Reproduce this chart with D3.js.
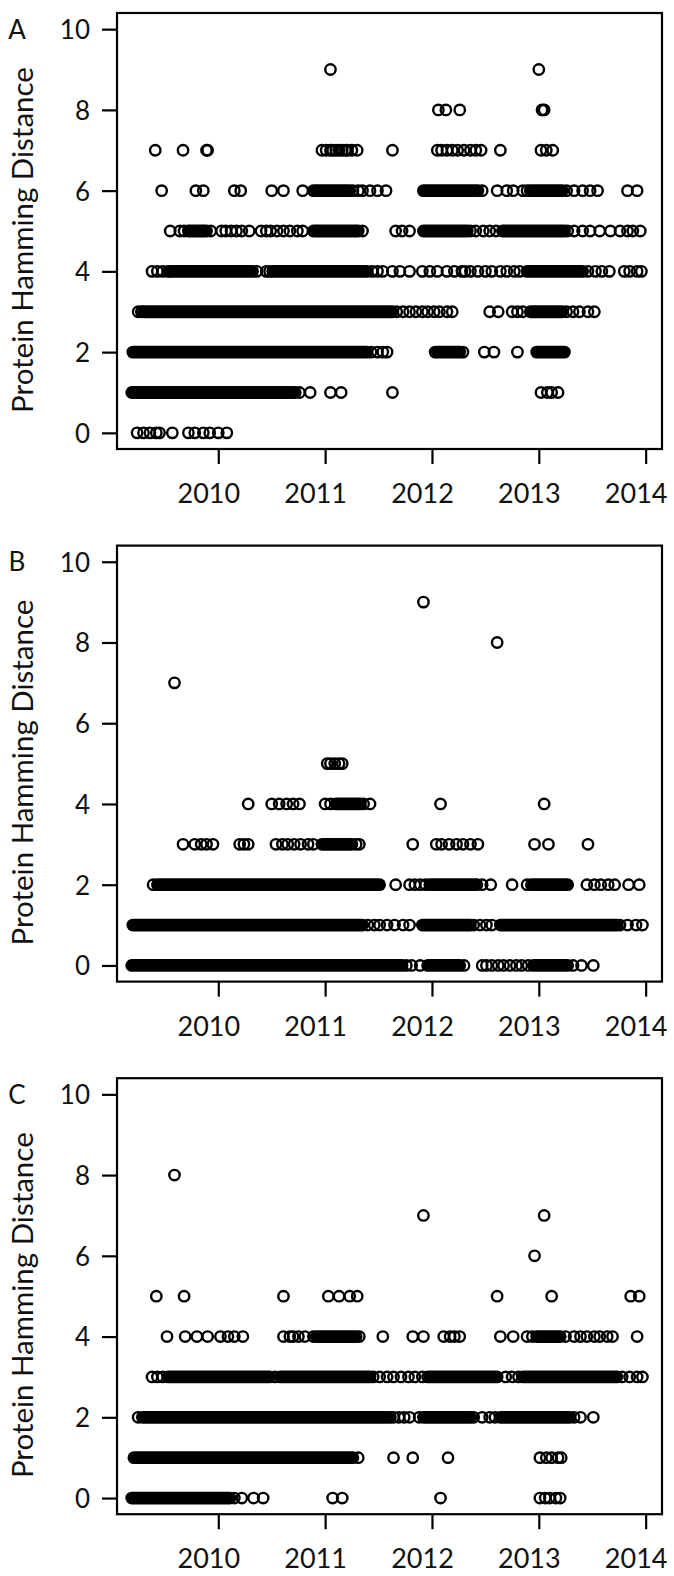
<!DOCTYPE html>
<html><head><meta charset="utf-8">
<script src="https://cdn.jsdelivr.net/npm/d3@7"></script>
<style>
body{margin:0;background:#fff}
text{font-family:Lato,"Open Sans","Noto Sans",sans-serif;fill:#111}
</style>
</head><body>
<svg id="chart" width="674" height="1576"></svg>
<script>
const panelLetters = ["A", "B", "C"];
const yTicks = [0, 2, 4, 6, 8, 10];
const xTicks = [2010, 2011, 2012, 2013, 2014];
const xTickLabels = ["2010", "2011", "2012", "2013", "2014"];
const yLabel = "Protein Hamming Distance";

// isolated circles: [distance, [decimal years]]
const pointsA = [
  [9, [2011.05, 2013.00]],
  [8, [2012.06, 2012.13, 2012.26, 2013.03, 2013.05]],
  [7, [2009.41, 2009.67, 2009.89, 2009.90, 2010.97, 2011.01, 2011.05, 2011.07, 2011.10, 2011.13, 2011.16, 2011.19, 2011.21, 2011.25, 2011.30, 2011.63, 2012.05, 2012.09, 2012.14, 2012.19, 2012.24, 2012.30, 2012.36, 2012.41, 2012.46, 2012.64, 2013.02, 2013.07, 2013.13]],
  [6, [2009.47, 2009.79, 2009.86, 2010.15, 2010.21, 2010.50, 2010.61, 2010.79, 2011.26, 2011.31, 2011.35, 2011.42, 2011.49, 2011.57, 2012.47, 2012.61, 2012.70, 2012.76, 2012.85, 2012.89, 2013.26, 2013.33, 2013.41, 2013.48, 2013.55, 2013.83, 2013.92]],
  [5, [2009.55, 2009.64, 2009.68, 2009.93, 2010.03, 2010.07, 2010.12, 2010.17, 2010.22, 2010.29, 2010.40, 2010.45, 2010.49, 2010.55, 2010.61, 2010.67, 2010.74, 2010.79, 2011.35, 2011.66, 2011.72, 2011.79, 2012.36, 2012.41, 2012.48, 2012.54, 2012.60, 2013.27, 2013.33, 2013.41, 2013.48, 2013.57, 2013.67, 2013.76, 2013.83, 2013.88, 2013.95]],
  [4, [2009.38, 2009.43, 2009.48, 2009.53, 2010.36, 2010.45, 2010.48, 2011.44, 2011.49, 2011.54, 2011.63, 2011.70, 2011.79, 2011.91, 2011.98, 2012.05, 2012.14, 2012.21, 2012.28, 2012.31, 2012.36, 2012.43, 2012.50, 2012.56, 2012.64, 2012.70, 2012.77, 2012.82, 2013.46, 2013.53, 2013.59, 2013.66, 2013.80, 2013.85, 2013.92, 2013.96]],
  [3, [2009.25, 2009.28, 2011.67, 2011.73, 2011.79, 2011.85, 2011.91, 2011.96, 2012.02, 2012.07, 2012.14, 2012.19, 2012.54, 2012.62, 2012.75, 2012.80, 2012.85, 2013.26, 2013.32, 2013.38, 2013.46, 2013.52]],
  [2, [2011.43, 2011.49, 2011.54, 2011.58, 2012.03, 2012.29, 2012.49, 2012.58, 2012.80]],
  [1, [2010.76, 2010.86, 2011.05, 2011.15, 2011.63, 2013.02, 2013.08, 2013.12, 2013.18]],
  [0, [2009.24, 2009.30, 2009.36, 2009.42, 2009.45, 2009.57, 2009.72, 2009.78, 2009.86, 2009.92, 2010.00, 2010.08]]
];
// dense, fully overlapping stretches: [distance, first year, last year]
const runsA = [
  [6, 2010.89, 2011.23], [6, 2011.92, 2012.43], [6, 2012.92, 2013.22],
  [5, 2009.72, 2009.89], [5, 2010.89, 2011.31], [5, 2011.92, 2012.33], [5, 2012.66, 2013.24],
  [4, 2009.55, 2010.32], [4, 2010.51, 2011.39], [4, 2012.89, 2013.41],
  [3, 2009.30, 2011.63], [3, 2012.92, 2013.22],
  [2, 2009.20, 2011.39], [2, 2012.05, 2012.26], [2, 2012.98, 2013.24],
  [1, 2009.19, 2010.72]
];

const pointsB = [
  [9, [2011.92]],
  [8, [2012.61]],
  [7, [2009.59]],
  [5, [2011.02, 2011.05, 2011.09, 2011.13, 2011.16]],
  [4, [2010.28, 2010.50, 2010.57, 2010.64, 2010.70, 2010.76, 2011.00, 2011.05, 2011.36, 2011.42, 2012.08, 2013.05]],
  [3, [2009.67, 2009.78, 2009.84, 2009.89, 2009.95, 2010.20, 2010.24, 2010.28, 2010.54, 2010.60, 2010.65, 2010.71, 2010.77, 2010.84, 2010.89, 2011.29, 2011.32, 2011.82, 2012.04, 2012.09, 2012.16, 2012.23, 2012.29, 2012.36, 2012.43, 2012.96, 2013.09, 2013.46]],
  [2, [2009.39, 2011.66, 2011.79, 2011.84, 2011.89, 2011.94, 2012.47, 2012.55, 2012.75, 2012.89, 2013.45, 2013.52, 2013.58, 2013.65, 2013.71, 2013.84, 2013.94]],
  [1, [2011.40, 2011.46, 2011.51, 2011.58, 2011.65, 2011.73, 2011.79, 2012.39, 2012.45, 2012.51, 2012.56, 2013.76, 2013.83, 2013.91, 2013.97]],
  [0, [2011.76, 2011.81, 2011.89, 2012.30, 2012.47, 2012.51, 2012.56, 2012.62, 2012.67, 2012.73, 2012.79, 2012.84, 2012.90, 2013.32, 2013.40, 2013.51]]
];
const runsB = [
  [4, 2011.10, 2011.33],
  [3, 2010.97, 2011.25],
  [2, 2009.43, 2011.51], [2, 2011.98, 2012.42], [2, 2012.93, 2013.27],
  [1, 2009.20, 2011.35], [1, 2011.91, 2012.36], [1, 2012.64, 2013.73],
  [0, 2009.19, 2011.72], [0, 2011.96, 2012.26], [0, 2012.95, 2013.27]
];

const pointsC = [
  [8, [2009.59]],
  [7, [2011.92, 2013.05]],
  [6, [2012.96]],
  [5, [2009.42, 2009.68, 2010.61, 2011.03, 2011.13, 2011.23, 2011.30, 2012.61, 2013.12, 2013.86, 2013.94]],
  [4, [2009.52, 2009.69, 2009.80, 2009.90, 2010.02, 2010.09, 2010.15, 2010.23, 2010.61, 2010.67, 2010.70, 2010.75, 2010.81, 2010.89, 2011.32, 2011.54, 2011.82, 2011.92, 2012.11, 2012.17, 2012.21, 2012.26, 2012.64, 2012.76, 2012.89, 2012.94, 2013.25, 2013.33, 2013.39, 2013.45, 2013.52, 2013.57, 2013.64, 2013.69, 2013.92]],
  [3, [2009.38, 2009.43, 2009.48, 2010.53, 2011.45, 2011.51, 2011.58, 2011.64, 2011.71, 2011.78, 2011.84, 2011.91, 2011.96, 2012.69, 2012.75, 2012.81, 2013.78, 2013.85, 2013.92, 2013.97]],
  [2, [2009.25, 2011.64, 2011.69, 2011.74, 2011.79, 2011.88, 2012.39, 2012.47, 2012.54, 2012.59, 2013.33, 2013.39, 2013.51]],
  [1, [2011.31, 2011.64, 2011.82, 2012.15, 2013.01, 2013.07, 2013.12, 2013.18, 2013.21]],
  [0, [2010.15, 2010.22, 2010.33, 2010.42, 2011.07, 2011.16, 2012.08, 2013.01, 2013.06, 2013.10, 2013.16, 2013.20]]
];
const runsC = [
  [4, 2010.92, 2011.29], [4, 2012.98, 2013.20],
  [3, 2009.53, 2010.48], [3, 2010.58, 2011.42], [3, 2011.98, 2012.61], [3, 2012.85, 2013.73],
  [2, 2009.29, 2011.61], [2, 2011.92, 2012.36], [2, 2012.64, 2013.29],
  [1, 2009.21, 2011.26],
  [0, 2009.19, 2010.11]
];

const panelPoints = [pointsA, pointsB, pointsC];
const panelRuns = [runsA, runsB, runsC];

// ---- layout ----
const svg = d3.select("#chart");
const left = 117, right = 662, plotH = 436;
const tops = [13, 545.6, 1078.2];
const R = 5.2, SW = 2.4;
const FS = 26;

const x = d3.scaleLinear().domain([2009.052, 2014.153]).range([left, right]);

panelLetters.forEach((letter, i) => {
  const top = tops[i];
  const y = d3.scaleLinear().domain([-0.4, 10.4]).range([top + plotH, top]);
  const g = svg.append("g");

  // dense runs
  const runs = panelRuns[i];
  g.selectAll("line.run").data(runs).enter().append("line")
    .attr("class", "run")
    .attr("x1", d => x(d[1])).attr("x2", d => x(d[2]))
    .attr("y1", d => y(d[0])).attr("y2", d => y(d[0]))
    .attr("stroke", "#000").attr("stroke-width", 2 * R + SW)
    .attr("stroke-linecap", "round");

  // circles
  const pts = panelPoints[i].flatMap(([dist, years]) => years.map(t => ({t, dist})));
  g.selectAll("circle").data(pts).enter().append("circle")
    .attr("cx", d => x(d.t)).attr("cy", d => y(d.dist)).attr("r", R)
    .attr("fill", "none").attr("stroke", "#000").attr("stroke-width", SW);

  // box
  g.append("rect").attr("x", left).attr("y", top)
    .attr("width", right - left).attr("height", plotH)
    .attr("fill", "none").attr("stroke", "#000").attr("stroke-width", 2.2);

  // y axis
  const ya = g.append("g").attr("transform", `translate(${left},0)`)
    .call(d3.axisLeft(y).tickValues(yTicks).tickSize(15).tickPadding(12).tickFormat(d3.format("d")));
  ya.select(".domain").remove();
  ya.selectAll(".tick line").attr("stroke", "#000").attr("stroke-width", 2.2);
  ya.selectAll(".tick text").attr("font-size", FS).attr("font-family", "Lato").attr("fill", "#111")
    .attr("dy", "0.36em");

  // x axis
  const xa = g.append("g").attr("transform", `translate(0,${top + plotH})`)
    .call(d3.axisBottom(x).tickValues(xTicks).tickSize(15).tickFormat((d, k) => xTickLabels[k]));
  xa.select(".domain").remove();
  xa.selectAll(".tick line").attr("stroke", "#000").attr("stroke-width", 2.2);
  xa.selectAll(".tick text").attr("font-size", 27).attr("font-family", "Lato").attr("fill", "#111")
    .attr("x", -10).attr("y", 54).attr("dy", 0);

  // panel letter
  g.append("text").attr("x", 17).attr("y", y(10) + 9.5)
    .attr("text-anchor", "middle").attr("font-size", FS).text(letter);

  // y label
  const lab = g.append("text")
    .attr("transform", `translate(33,${top + 227}) rotate(-90)`)
    .attr("text-anchor", "middle").attr("font-size", FS).text(yLabel);
  const len = lab.node().getComputedTextLength();
  if (len > 0) lab.attr("font-size", FS * 346 / len);
});
</script>
</body></html>
